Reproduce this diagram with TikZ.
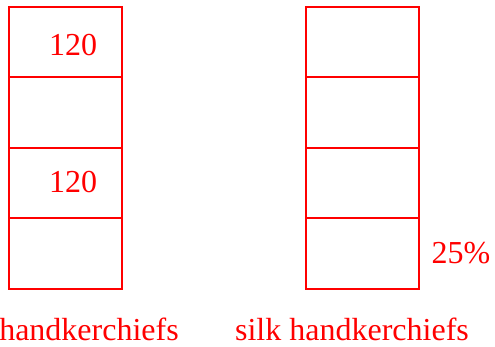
\documentclass[tikz,border=0pt]{standalone}
\usepackage{fontspec}
\setmainfont{Liberation Serif}
\begin{document}
\begin{tikzpicture}[x=1pt,y=-1pt,
  cell/.style={draw=red,line width=2.3pt},
  lbl/.style={text=red,font=\fontsize{32}{38}\selectfont,inner sep=0pt}]
\useasboundingbox (0,0) rectangle (495,347);
\draw[cell] (9,7) rectangle (122,77) coordinate (l1);
\draw[cell] (9,77) rectangle (122,148) coordinate (l2);
\draw[cell] (9,148) rectangle (122,218) coordinate (l3);
\draw[cell] (9,218) rectangle (122,289) coordinate (l4);
\draw[cell] (306,7) rectangle (419,77) coordinate (r1);
\draw[cell] (306,77) rectangle (419,148) coordinate (r2);
\draw[cell] (306,148) rectangle (419,218) coordinate (r3);
\draw[cell] (306,218) rectangle (419,289) coordinate (r4);
\node[lbl] (t1) at (73,45) {120};
\node[lbl] (t2) at (73,182) {120};
\node[lbl] (p) at (461,253) {25\%};
\node[lbl] (a) at (89,329) {handkerchiefs};
\node[lbl] (b) at (352,329) {silk handkerchiefs};
\end{tikzpicture}
\end{document}
